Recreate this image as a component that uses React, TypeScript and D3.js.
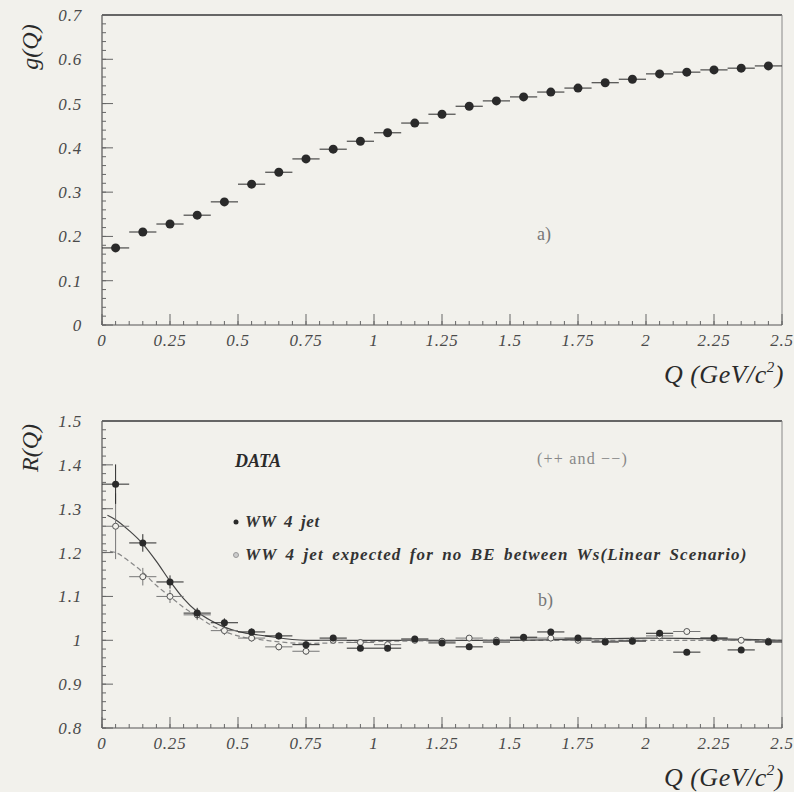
import { useMemo } from "react";
import * as d3 from "d3";

const W = 794;
const H = 792;

// bin centres (GeV/c^2)
const qBins = [0.05, 0.15, 0.25, 0.35, 0.45, 0.55, 0.65, 0.75, 0.85, 0.95, 1.05, 1.15, 1.25, 1.35, 1.45, 1.55, 1.65, 1.75, 1.85, 1.95, 2.05, 2.15, 2.25, 2.35, 2.45];
const halfBin = 0.05;

// panel a) g(Q)
const gValues = [0.174, 0.21, 0.228, 0.248, 0.278, 0.318, 0.345, 0.375, 0.397, 0.415, 0.434, 0.456, 0.476, 0.494, 0.506, 0.515, 0.526, 0.535, 0.547, 0.555, 0.567, 0.571, 0.576, 0.58, 0.585];

// panel b) R(Q), WW 4 jet data
const rData = [1.356, 1.222, 1.133, 1.062, 1.04, 1.019, 1.01, 0.99, 1.005, 0.982, 0.982, 1.003, 0.994, 0.985, 0.996, 1.007, 1.019, 1.005, 0.996, 0.998, 1.016, 0.973, 1.005, 0.978, 0.996];
const rDataErr = [0.045, 0.02, 0.015, 0.012, 0.01, 0.008, 0.008, 0.008, 0.007, 0.007, 0.007, 0.007, 0.007, 0.007, 0.007, 0.007, 0.007, 0.007, 0.007, 0.007, 0.007, 0.007, 0.007, 0.007, 0.007];
// expected, no BE between Ws
const rExp = [1.26, 1.145, 1.1, 1.058, 1.022, 1.005, 0.985, 0.975, 1.0, 0.995, 0.99, 1.0, 0.998, 1.005, 1.0, 1.005, 1.005, 1.0, 0.998, 1.0, 1.01, 1.02, 1.005, 1.0, 0.998];
const rExpErr = [0.075, 0.02, 0.015, 0.012, 0.01, 0.008, 0.008, 0.008, 0.007, 0.007, 0.007, 0.007, 0.007, 0.007, 0.007, 0.007, 0.007, 0.007, 0.007, 0.007, 0.007, 0.007, 0.007, 0.007, 0.007];

// fitted curves
const fitQ = [0.02, 0.05, 0.1, 0.15, 0.2, 0.25, 0.3, 0.35, 0.4, 0.45, 0.5, 0.6, 0.75, 1.0, 1.5, 2.0, 2.5];
const fitData = [1.285, 1.275, 1.25, 1.22, 1.18, 1.135, 1.095, 1.065, 1.045, 1.03, 1.02, 1.01, 1.0, 1.0, 1.0, 1.005, 1.0];
const fitExpQ = [0.0, 0.05, 0.1, 0.15, 0.2, 0.25, 0.3, 0.35, 0.4, 0.45, 0.5, 0.6, 0.75, 1.0, 1.5, 2.0, 2.5];
const fitExp = [1.205, 1.2, 1.18, 1.155, 1.125, 1.1, 1.075, 1.055, 1.035, 1.02, 1.01, 1.0, 0.993, 0.997, 1.0, 1.0, 1.0];

const xTicks = [0, 0.25, 0.5, 0.75, 1, 1.25, 1.5, 1.75, 2, 2.25, 2.5];
const xTickLabels = ["0", "0.25", "0.5", "0.75", "1", "1.25", "1.5", "1.75", "2", "2.25", "2.5"];
const gTicks = [0, 0.1, 0.2, 0.3, 0.4, 0.5, 0.6, 0.7];
const gTickLabels = ["0", "0.1", "0.2", "0.3", "0.4", "0.5", "0.6", "0.7"];
const rTicks = [0.8, 0.9, 1.0, 1.1, 1.2, 1.3, 1.4, 1.5];
const rTickLabels = ["0.8", "0.9", "1", "1.1", "1.2", "1.3", "1.4", "1.5"];

const BG = "#f2f1ec";
const INK = "#2a2a2a";
const SERIF = "'Liberation Serif', 'DejaVu Serif', serif";

function Frame({ xScale, yScale, yTicks, yLabels, yMinor, top, bottom, yLabel, yLabelY }) {
    const left = xScale.range()[0];
    const right = xScale.range()[1];
    const xMinor = d3.range(0, 2.5001, 0.05);
    return (
        <g>
            <line x1={left} x2={right} y1={top} y2={top} stroke="#666" strokeWidth={2} />
            <line x1={right} x2={right} y1={top} y2={bottom} stroke="#888" strokeWidth={1} />
            <line x1={left} x2={right} y1={bottom} y2={bottom} stroke="#555" strokeWidth={1.2} />
            <line x1={left} x2={left} y1={top} y2={bottom} stroke="#555" strokeWidth={1.2} />
            {xMinor.map((v, i) => (
                <line key={"xm" + i} x1={xScale(v)} x2={xScale(v)} y1={bottom} y2={bottom - 4} stroke="#666" />
            ))}
            {xTicks.map((v, i) => (
                <g key={"x" + i}>
                    <line x1={xScale(v)} x2={xScale(v)} y1={bottom} y2={bottom - 11} stroke="#666" />
                    <text x={xScale(v)} y={bottom + 21} textAnchor="middle" fontSize={17} letterSpacing={0.8}
                        fontStyle="italic" fontFamily={SERIF} fill="#4a4a4a">{xTickLabels[i]}</text>
                </g>
            ))}
            {yMinor.map((v, i) => (
                <line key={"ym" + i} x1={left} x2={left + 4} y1={yScale(v)} y2={yScale(v)} stroke="#666" />
            ))}
            {yTicks.map((v, i) => (
                <g key={"y" + i}>
                    <line x1={left} x2={left + 11} y1={yScale(v)} y2={yScale(v)} stroke="#666" />
                    <text x={82} y={yScale(v) + 6} textAnchor="end" fontSize={17} letterSpacing={0.8}
                        fontStyle="italic" fontFamily={SERIF} fill="#4a4a4a">{yLabels[i]}</text>
                </g>
            ))}
            <text transform={`translate(38, ${yLabelY}) rotate(-90)`} textAnchor="middle" fontSize={24}
                fontStyle="italic" fontFamily={SERIF} fill={INK}>{yLabel}</text>
            <text x={784} y={bottom + 58} textAnchor="end" fontSize={26} letterSpacing={0.5} fontStyle="italic"
                fontFamily={SERIF} fill={INK}>
                Q (GeV/c<tspan dy={-11} fontSize={15}>2</tspan><tspan dy={11}>)</tspan>
            </text>
        </g>
    );
}

export default function App() {
    const xA = useMemo(() => d3.scaleLinear().domain([0, 2.5]).range([102, 782]), []);
    const yA = useMemo(() => d3.scaleLinear().domain([0, 0.7]).range([325, 15]), []);
    const xB = xA;
    const yB = useMemo(() => d3.scaleLinear().domain([0.8, 1.5]).range([728, 421]), []);

    const gMinor = d3.range(0, 0.7001, 0.02);
    const rMinor = d3.range(0.8, 1.5001, 0.02);

    const fitLine = d3.line().x((d) => xB(d[0])).y((d) => yB(d[1])).curve(d3.curveMonotoneX);

    const pointsA = qBins.map((q, i) => (
        <g key={i}>
            <line x1={xA(q - halfBin)} x2={xA(q + halfBin)} y1={yA(gValues[i])} y2={yA(gValues[i])} stroke={INK} strokeWidth={1} />
            <circle cx={xA(q)} cy={yA(gValues[i])} r={4.5} fill={INK} />
        </g>
    ));

    const expMarks = qBins.map((q, i) => (
        <g key={i}>
            <line x1={xB(q - halfBin)} x2={xB(q + halfBin)} y1={yB(rExp[i])} y2={yB(rExp[i])} stroke="#777" />
            <line x1={xB(q)} x2={xB(q)} y1={yB(rExp[i] - rExpErr[i])} y2={yB(rExp[i] + rExpErr[i])} stroke="#777" />
            <circle cx={xB(q)} cy={yB(rExp[i])} r={3} fill={BG} stroke="#555" strokeWidth={1} />
        </g>
    ));

    const dataMarks = qBins.map((q, i) => (
        <g key={i}>
            <line x1={xB(q - halfBin)} x2={xB(q + halfBin)} y1={yB(rData[i])} y2={yB(rData[i])} stroke={INK} />
            <line x1={xB(q)} x2={xB(q)} y1={yB(rData[i] - rDataErr[i])} y2={yB(rData[i] + rDataErr[i])} stroke={INK} />
            <circle cx={xB(q)} cy={yB(rData[i])} r={3.5} fill={INK} />
        </g>
    ));

    return (
        <svg width={W} height={H} style={{ position: "absolute", left: 0, top: 0, display: "block", background: BG }}>
            <rect x={0} y={0} width={W} height={H} fill={BG} />

            <Frame xScale={xA} yScale={yA} yTicks={gTicks} yLabels={gTickLabels} yMinor={gMinor}
                top={15} bottom={325} yLabel="g(Q)" yLabelY={47} />
            <g>{pointsA}</g>
            <text x={537} y={240} fontSize={18} fontFamily={SERIF} fill="#777">a)</text>

            <Frame xScale={xB} yScale={yB} yTicks={rTicks} yLabels={rTickLabels} yMinor={rMinor}
                top={421} bottom={728} yLabel="R(Q)" yLabelY={448} />
            <path d={fitLine(fitExpQ.map((q, i) => [q, fitExp[i]]))} fill="none" stroke="#888" strokeWidth={1.2} strokeDasharray="5,3" />
            <path d={fitLine(fitQ.map((q, i) => [q, fitData[i]]))} fill="none" stroke="#444" strokeWidth={1.2} />
            <g>{expMarks}</g>
            <g>{dataMarks}</g>

            <text x={235} y={467} fontSize={18} fontWeight="bold" fontStyle="italic" fontFamily={SERIF} fill={INK}>DATA</text>
            <text x={537} y={464} fontSize={16} letterSpacing={1.2} fontFamily={SERIF} fill="#888">(++ and −−)</text>
            <circle cx={236} cy={522} r={2.5} fill={INK} />
            <text x={245} y={527} fontSize={17} fontWeight="bold" fontStyle="italic" letterSpacing={0.6}
                wordSpacing={3} fontFamily={SERIF} fill="#333">WW  4  jet</text>
            <circle cx={236} cy={555} r={2.5} fill="#ccc" stroke="#999" />
            <text x={245} y={560} fontSize={17} fontWeight="bold" fontStyle="italic" letterSpacing={0.6}
                wordSpacing={3} fontFamily={SERIF} fill="#333" textLength={502} lengthAdjust="spacing">
                WW  4  jet expected for no BE between Ws(Linear Scenario)
            </text>
            <text x={538} y={606} fontSize={18} fontFamily={SERIF} fill="#777">b)</text>
        </svg>
    );
}
